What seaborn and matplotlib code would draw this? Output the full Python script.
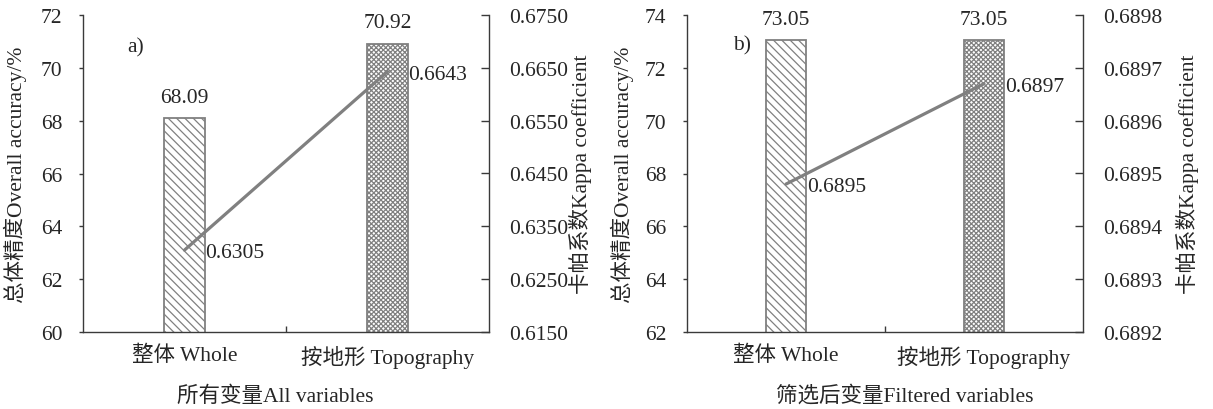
import matplotlib
matplotlib.use("Agg")
import matplotlib.pyplot as plt
import seaborn as sns
import pandas as pd
import numpy as np

categories = ["整体 Whole", "按地形 Topography"]
acc_all = [68.09, 70.92]
kappa_all = [0.6305, 0.6643]
acc_filt = [73.05, 73.05]
kappa_filt = [0.68948, 0.68967]

panel_tags = ["a)", "b)"]
xlabels = ["所有变量All variables", "筛选后变量Filtered variables"]
left_ylabel = "总体精度Overall accuracy/%"
right_ylabel = "卡帕系数Kappa coefficient"
left_ticks = [[60, 62, 64, 66, 68, 70, 72], [62, 64, 66, 68, 70, 72, 74]]
right_ticks = [[0.6150, 0.6250, 0.6350, 0.6450, 0.6550, 0.6650, 0.6750],
               [0.6892, 0.6893, 0.6894, 0.6895, 0.6896, 0.6897, 0.6898]]

sns.set_theme(style="white")
plt.rcParams['font.family'] = ['Liberation Serif', 'Noto Sans CJK SC']
plt.rcParams['hatch.linewidth'] = 0.9
plt.rcParams['hatch.color'] = '#6e6e6e'

FS = 15.5
DPI = 100
W, H = 1213, 410
fig = plt.figure(figsize=(W / DPI, H / DPI), dpi=DPI)

panels = [
    dict(acc=acc_all, kap=kappa_all, rect=(83, 16, 489, 333), ylab_l=-0.138, ylab_r=1.197,
         xlab_x=0.473, tag_x=0.11, tag_y=0.9),
    dict(acc=acc_filt, kap=kappa_filt, rect=(687, 16, 1083, 333), ylab_l=-0.135, ylab_r=1.235,
         xlab_x=0.55, tag_x=0.116, tag_y=0.905),
]
hatches = ['\\\\\\\\', 'xxxxxxx']
spine_c = '#3a3a3a'
line_c = '#808080'

for i, p in enumerate(panels):
    x0, y0, x1, y1 = p['rect']
    ax = fig.add_axes([x0 / W, 1 - y1 / H, (x1 - x0) / W, (y1 - y0) / H])
    df = pd.DataFrame({"cat": categories, "acc": p['acc'], "kappa": p['kap']})
    sns.barplot(data=df, x="cat", y="acc", ax=ax, width=0.2, color="white",
                edgecolor="#808080", linewidth=1.3)
    for patch, h in zip(ax.patches, hatches):
        patch.set_hatch(h)
        patch.set_facecolor("white")
        patch.set_edgecolor("#808080")
    lt = left_ticks[i]
    ax.set_ylim(lt[0], lt[-1])
    ax.set_yticks(lt)
    ax.set_yticklabels([str(t) for t in lt], fontsize=FS)
    ax.set_xlim(-0.5, 1.5)
    ax.set_xticks([0, 1])
    ax.set_xticklabels(categories, fontsize=FS)
    ax.set_xticks([0.5], minor=True)
    ax.tick_params(axis='x', which='major', length=0, pad=9)
    ax.tick_params(axis='x', which='minor', length=4, direction='in', width=1, color=spine_c, bottom=True)
    ax.tick_params(axis='y', which='major', length=3, direction='out', width=1, color=spine_c,
                   pad=12, left=True)
    for s in ['top', 'right']:
        ax.spines[s].set_visible(False)
    for s in ['left', 'bottom']:
        ax.spines[s].set_color(spine_c)
        ax.spines[s].set_linewidth(1.0)
    ax.set_xlabel(xlabels[i], fontsize=FS)
    ax.xaxis.set_label_coords(p['xlab_x'], -0.167)
    ax.set_ylabel(left_ylabel, fontsize=FS)
    ax.yaxis.set_label_coords(p['ylab_l'], 0.5)
    ax.grid(False)
    for j, v in enumerate(p['acc']):
        ax.annotate(f"{v:.2f}", (j, v), xytext=(0, 8), textcoords='offset points',
                    ha='center', va='bottom', fontsize=FS)
    ax.text(p['tag_x'], p['tag_y'], panel_tags[i], transform=ax.transAxes, fontsize=FS,
            ha='left', va='center')

    ax2 = ax.twinx()
    sns.lineplot(data=df, x="cat", y="kappa", ax=ax2, color=line_c, linewidth=2.3,
                 sort=False)
    rt = right_ticks[i]
    ax2.set_ylim(rt[0], rt[-1])
    ax2.set_yticks(rt)
    ax2.set_yticklabels([f"{t:.4f}" for t in rt], fontsize=FS)
    ax2.tick_params(axis='y', which='major', length=6, direction='in', width=1, color=spine_c,
                    pad=14.5, right=True)
    for s in ['top', 'left', 'bottom']:
        ax2.spines[s].set_visible(False)
    ax2.spines['right'].set_color(spine_c)
    ax2.spines['right'].set_linewidth(1.0)
    ax2.set_ylabel(right_ylabel, fontsize=FS)
    ax2.yaxis.set_label_coords(p['ylab_r'], 0.5)
    ax2.set_xlabel("")
    ax2.grid(False)
    ax2.set_xlim(-0.5, 1.5)
    for j, v in enumerate(p['kap']):
        ax2.annotate(f"{v:.4f}", (j, v), xytext=(15, -2), textcoords='offset points',
                     ha='left', va='center', fontsize=FS)

fig.savefig("out.png", dpi=DPI)
